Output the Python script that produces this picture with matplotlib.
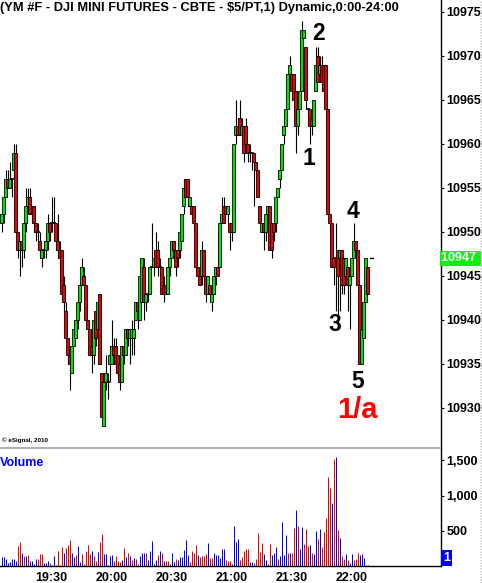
import numpy as np
import pandas as pd
import matplotlib
matplotlib.use('Agg')
import matplotlib.pyplot as plt
from matplotlib.transforms import blended_transform_factory

plt.rcParams['font.family'] = ['Liberation Sans', 'DejaVu Sans']
plt.rcParams['font.weight'] = 'bold'

title = '(YM #F - DJI MINI FUTURES - CBTE - $5/PT,1) Dynamic,0:00-24:00'
start_time = '2010-01-01 19:05'
time_ticks = ['19:30', '20:00', '20:30', '21:00', '21:30', '22:00']
price_ticks = [10930, 10935, 10940, 10945, 10950, 10955, 10960, 10965, 10970, 10975]
vol_ticks = [500, 1000, 1500]
vol_tick_labels = ['500', '1,000', '1,500']
last_price = 10947
last_volume = 1

# one-minute bars, 19:05 .. 22:08
opens = [10951, 10952, 10954, 10956, 10955, 10956, 10957, 10959, 10950, 10948,
         10949, 10948, 10951, 10953, 10954, 10952, 10953, 10951, 10950, 10949,
         10947, 10948, 10948, 10949, 10951, 10951, 10951, 10951, 10949, 10948,
         10948, 10944, 10941, 10938, 10936, 10934, 10937, 10938, 10940, 10942,
         10944, 10945, 10944, 10940, 10939, 10937, 10936, 10941, 10939, 10943,
         10934, 10928, 10933, 10933, 10935, 10935, 10937, 10937, 10936, 10935,
         10933, 10937, 10936, 10939, 10938, 10938, 10938, 10940, 10942, 10940,
         10942, 10946, 10942, 10943, 10943, 10946, 10946, 10948, 10948, 10946,
         10946, 10944, 10944, 10943, 10946, 10947, 10949, 10948, 10948, 10948,
         10949, 10953, 10956, 10956, 10953, 10953, 10953, 10951, 10946, 10945,
         10945, 10948, 10945, 10943, 10944, 10942, 10943, 10945, 10946, 10946,
         10951, 10953, 10953, 10952, 10951, 10951, 10950, 10961, 10962, 10963,
         10961, 10962, 10962, 10960, 10959, 10959, 10959, 10958, 10957, 10953,
         10950, 10951, 10950, 10952, 10953, 10951, 10951, 10951, 10954, 10956,
         10957, 10961, 10962, 10964, 10968, 10968, 10968, 10966, 10962, 10964,
         10966, 10972, 10971, 10964, 10964, 10963, 10962, 10966, 10970, 10968,
         10969, 10969, 10969, 10964, 10952, 10951, 10947, 10947, 10948, 10947,
         10948, 10947, 10945, 10946, 10944, 10945, 10947, 10949, 10948, 10944,
         10935, 10938, 10942, 10946]
highs = [10952, 10954, 10957, 10957, 10958, 10956, 10960, 10960, 10950, 10949,
         10949, 10951, 10955, 10955, 10955, 10953, 10953, 10951, 10951, 10950,
         10948, 10949, 10950, 10952, 10951, 10954, 10954, 10951, 10952, 10949,
         10948, 10945, 10942, 10938, 10936, 10937, 10939, 10940, 10942, 10945,
         10947, 10946, 10944, 10940, 10939, 10937, 10940, 10941, 10942, 10943,
         10934, 10933, 10936, 10934, 10937, 10940, 10938, 10938, 10936, 10935,
         10937, 10937, 10939, 10939, 10939, 10940, 10940, 10942, 10942, 10945,
         10947, 10947, 10943, 10944, 10946, 10951, 10947, 10950, 10949, 10947,
         10946, 10945, 10944, 10946, 10947, 10949, 10949, 10948, 10948, 10950,
         10952, 10956, 10956, 10956, 10954, 10953, 10953, 10951, 10946, 10945,
         10949, 10948, 10945, 10945, 10944, 10943, 10945, 10946, 10950, 10951,
         10954, 10954, 10953, 10953, 10951, 10951, 10960, 10965, 10963, 10965,
         10963, 10962, 10963, 10960, 10960, 10959, 10959, 10958, 10957, 10953,
         10951, 10951, 10952, 10953, 10953, 10951, 10951, 10954, 10955, 10957,
         10960, 10962, 10964, 10968, 10970, 10968, 10968, 10966, 10964, 10967,
         10974, 10973, 10971, 10964, 10964, 10963, 10965, 10971, 10971, 10970,
         10970, 10969, 10969, 10964, 10952, 10951, 10947, 10951, 10948, 10948,
         10948, 10947, 10947, 10946, 10945, 10947, 10951, 10949, 10948, 10944,
         10939, 10942, 10947, 10946]
lows = [10950, 10951, 10954, 10955, 10955, 10954, 10956, 10950, 10947, 10945,
        10946, 10947, 10950, 10952, 10952, 10951, 10950, 10949, 10949, 10947,
        10946, 10947, 10947, 10948, 10949, 10950, 10951, 10948, 10947, 10946,
        10943, 10941, 10938, 10935, 10932, 10934, 10937, 10938, 10939, 10941,
        10944, 10944, 10940, 10939, 10936, 10934, 10935, 10937, 10938, 10935,
        10929, 10928, 10932, 10931, 10933, 10935, 10935, 10934, 10933, 10932,
        10933, 10935, 10936, 10937, 10935, 10936, 10936, 10940, 10939, 10940,
        10942, 10940, 10941, 10942, 10943, 10946, 10945, 10946, 10945, 10945,
        10943, 10942, 10943, 10943, 10945, 10947, 10947, 10945, 10946, 10947,
        10949, 10952, 10954, 10953, 10953, 10952, 10950, 10946, 10945, 10944,
        10944, 10944, 10942, 10943, 10943, 10941, 10943, 10944, 10945, 10946,
        10951, 10951, 10952, 10951, 10948, 10949, 10950, 10960, 10961, 10961,
        10960, 10958, 10959, 10958, 10958, 10957, 10953, 10956, 10954, 10951,
        10950, 10948, 10949, 10951, 10948, 10947, 10949, 10950, 10954, 10955,
        10957, 10960, 10962, 10964, 10968, 10966, 10965, 10959, 10961, 10964,
        10966, 10972, 10964, 10962, 10960, 10961, 10962, 10966, 10967, 10967,
        10966, 10966, 10964, 10952, 10950, 10946, 10944, 10941, 10939, 10941,
        10943, 10943, 10944, 10941, 10939, 10945, 10947, 10947, 10944, 10935,
        10935, 10938, 10942, 10943]
closes = [10952, 10954, 10956, 10955, 10956, 10956, 10959, 10950, 10948, 10949,
          10948, 10951, 10953, 10954, 10952, 10952, 10951, 10950, 10950, 10948,
          10948, 10948, 10949, 10951, 10950, 10951, 10951, 10949, 10948, 10947,
          10943, 10942, 10938, 10936, 10935, 10937, 10939, 10940, 10942, 10944,
          10946, 10944, 10940, 10939, 10936, 10936, 10940, 10938, 10942, 10935,
          10929, 10933, 10934, 10933, 10936, 10937, 10936, 10935, 10934, 10933,
          10937, 10936, 10939, 10938, 10939, 10939, 10939, 10942, 10941, 10945,
          10947, 10942, 10943, 10943, 10946, 10946, 10947, 10946, 10946, 10946,
          10943, 10943, 10943, 10946, 10947, 10949, 10948, 10946, 10947, 10950,
          10952, 10955, 10954, 10954, 10954, 10952, 10951, 10946, 10945, 10944,
          10948, 10945, 10943, 10945, 10943, 10943, 10945, 10946, 10945, 10951,
          10952, 10951, 10952, 10953, 10950, 10950, 10960, 10962, 10961, 10961,
          10962, 10959, 10960, 10959, 10959, 10959, 10958, 10957, 10954, 10951,
          10951, 10950, 10952, 10953, 10948, 10948, 10950, 10954, 10955, 10957,
          10960, 10962, 10964, 10968, 10969, 10966, 10965, 10962, 10964, 10966,
          10973, 10973, 10965, 10964, 10962, 10962, 10965, 10969, 10967, 10969,
          10967, 10966, 10964, 10952, 10951, 10946, 10946, 10947, 10945, 10948,
          10944, 10944, 10947, 10944, 10945, 10947, 10949, 10948, 10944, 10935,
          10939, 10942, 10947, 10943]
volumes = [124, 124, 95, 38, 57, 95, 95, 67, 281, 338,
           190, 138, 138, 152, 76, 67, 29, 95, 95, 167,
           167, 48, 48, 67, 48, 19, 138, 19, 219, 19,
           267, 190, 252, 295, 376, 190, 124, 152, 281, 57,
           167, 29, 219, 295, 167, 219, 138, 76, 200, 343,
           452, 167, 176, 19, 138, 152, 76, 138, 67, 57,
           90, 252, 129, 181, 143, 81, 119, 95, 29, 143,
           190, 190, 181, 81, 209, 352, 29, 90, 152, 209,
           190, 67, 67, 67, 29, 190, 57, 105, 81, 124,
           124, 233, 366, 152, 62, 214, 181, 295, 152, 129,
           143, 143, 167, 333, 119, 119, 190, 152, 152, 119,
           238, 248, 90, 71, 71, 29, 566, 343, 381, 81,
           124, 209, 238, 238, 57, 57, 48, 105, 466, 200,
           333, 176, 81, 29, 314, 152, 190, 271, 105, 138,
           623, 152, 438, 181, 190, 190, 543, 795, 566, 238,
           552, 314, 524, 286, 295, 190, 176, 495, 390, 524,
           271, 476, 685, 1257, 1104, 895, 1514, 1542, 509, 400,
           138, 105, 167, 81, 48, 167, 81, 105, 181, 152,
           167, 119, 19, 19]
vol_dir = ('bbbbbbbbrr' 'brbrbbbbrr' 'rbbbrbbrrr' 'rbrrrbbrbb' 'rrrrrbrrbr'
           'rbbbbbrrrr' 'brbrbrbrrb' 'bbrbbbbbrb' 'rbrrrbbrbb' 'bbbbrrrrbr'
           'rrrbrrbbbb' 'bbrrrbbbbr' 'rrrrbbrrrr' 'rbbbrbbbrb' 'bbbrbrrbrb'
           'brrrbrbbrb' 'rrrrrbrbrb' 'rrbrbbrrrb' 'bbbb')

wave_labels = [('2', 319, 33), ('1', 309, 158), ('4', 353, 212),
               ('3', 335, 325), ('5', 358, 382)]

W, H = 482, 583
GREEN = '#00e600'
RED = '#ee0000'
BLUE = '#0000ff'

o = np.array(opens); h = np.array(highs); l = np.array(lows); c = np.array(closes)
times = pd.date_range(start_time, periods=len(closes), freq='min')
idx = np.arange(len(closes))
tick_pos = [int(np.where(times.strftime('%H:%M') == t)[0][0]) for t in time_ticks]

fig = plt.figure(figsize=(W / 100, H / 100), dpi=100, facecolor='white')
ax = fig.add_axes([0, 1 - 448 / H, 441 / W, 448 / H])
axv = fig.add_axes([0, 1 - 566 / H, 441 / W, 117 / H], sharex=ax)

# price candles, drawn one after the other so later bars sit on top
for i in idx:
    ax.vlines(i, l[i], h[i], color='black', lw=0.8, zorder=2 + 2 * i)
    lo = min(o[i], c[i])
    ht = max(abs(c[i] - o[i]), 0.12)
    ax.bar(i, ht, bottom=lo, width=1.45, color=GREEN if c[i] > o[i] else RED,
           edgecolor='black', linewidth=0.6, zorder=3 + 2 * i)
ax.plot([idx[-1] + 1.3, idx[-1] + 2.6], [last_price, last_price], color='black', lw=1.0)

# 2 px per bar, bar centres on pixel centres
ax.set_xlim(-0.75, 219.75)
ax.set_ylim(10925.45, 10976.36)
ax.yaxis.tick_right()
ax.set_yticks(price_ticks)
ax.set_yticklabels([str(p) for p in price_ticks], fontsize=9, fontweight='bold')
ax.tick_params(axis='y', length=2, pad=2, colors='black')
ax.tick_params(axis='x', bottom=False, labelbottom=False)
for s in ['left', 'top']:
    ax.spines[s].set_visible(False)
ax.spines['right'].set_color('black')
ax.spines['right'].set_linewidth(1.0)
ax.spines['bottom'].set_color('#b0b0b0')
ax.spines['bottom'].set_linestyle((0, (1, 1)))
ax.spines['bottom'].set_linewidth(1.5)

tr = blended_transform_factory(ax.transAxes, ax.transData)
ax.text(1.0, last_price, str(last_price) + ' ', transform=tr, ha='left', va='center',
        color='white', fontsize=9, fontweight='bold', clip_on=False, zorder=1000,
        bbox=dict(boxstyle='square,pad=0.12', fc='#10f010', ec='none'))

# volume bars, 1 px wide
vcol = [BLUE if d == 'b' else RED for d in vol_dir]
axv.vlines(idx, 0, volumes, colors=vcol, lw=0.72, capstyle='butt')
axv.set_ylim(0, 1661)
axv.yaxis.tick_right()
axv.set_yticks(vol_ticks)
axv.set_yticklabels(vol_tick_labels, fontsize=9, fontweight='bold')
axv.tick_params(axis='y', length=2, pad=2)
axv.set_xticks(tick_pos)
axv.set_xticklabels(time_ticks, fontsize=9, fontweight='bold')
axv.tick_params(axis='x', length=0, pad=4)
for s in ['left', 'top']:
    axv.spines[s].set_visible(False)
axv.spines['right'].set_linewidth(1.0)
axv.spines['bottom'].set_linewidth(1.0)
axv.text(0.0, 0.93, 'Volume', transform=axv.transAxes, ha='left', va='top',
         color=BLUE, fontsize=9, fontweight='bold')
fig.text(443 / W, 1 - 558 / H, str(last_volume), ha='left', va='center', color='white',
         fontsize=9, fontweight='bold',
         bbox=dict(boxstyle='square,pad=0.15', fc=BLUE, ec='none'))

# header and annotations
fig.text(0.0, 1 - 8 / H, title, ha='left', va='center', fontsize=9.3, fontweight='bold')
fig.text(2 / W, 1 - 440 / H, '\u00a9 eSignal, 2010', ha='left', va='center', fontsize=4.5)
for txt, px, py in wave_labels:
    fig.text(px / W, 1 - py / H, txt, ha='center', va='center', fontsize=16.5,
             fontweight='bold', color='black')
fig.text(357 / W, 1 - 410 / H, '1/a', ha='center', va='center', fontsize=21,
         fontweight='bold', color='#ff0000')

# dotted frame line at the right edge
fig.add_artist(plt.Line2D([480.5 / W, 480.5 / W], [0, 1], color='#c0c0c0', lw=1,
                          ls=(0, (1, 1))))

fig.savefig('out.png', dpi=100, facecolor='white')
